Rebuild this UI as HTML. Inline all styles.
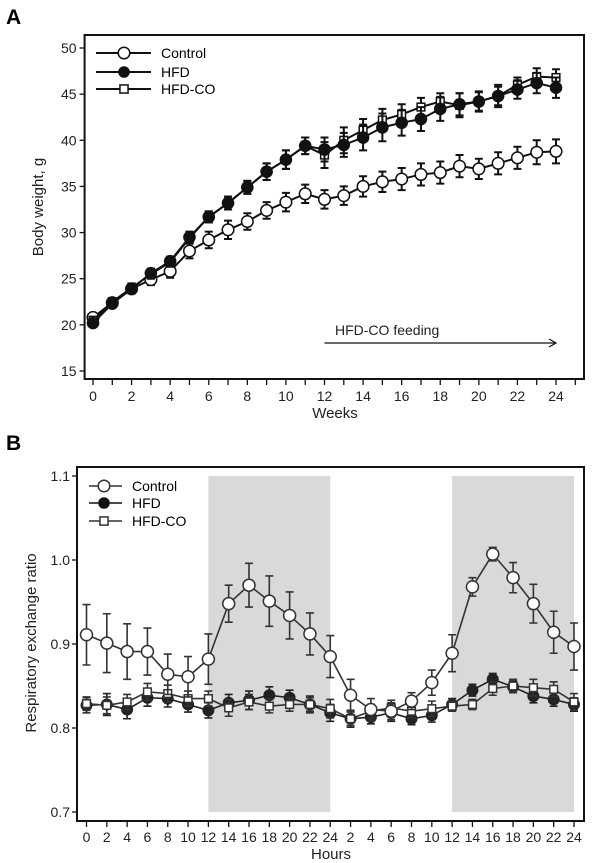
<!DOCTYPE html>
<html><head><meta charset="utf-8"><style>
html,body{margin:0;padding:0;background:#fff}
svg{display:block;font-family:"Liberation Sans",Arial,sans-serif}
</style></head><body>
<svg id="fig" width="600" height="863" viewBox="0 0 600 863">
<text x="6" y="24" font-size="21" font-weight="bold">A</text>
<text x="6" y="450" font-size="21" font-weight="bold">B</text>
<g id="pa"></g>
<g id="pb"></g>
</svg>
<script>
// Panel A data
const weeks = [0,1,2,3,4,5,6,7,8,9,10,11,12,13,14,15,16,17,18,19,20,21,22,23,24];
const aControl = [20.8,22.4,23.9,24.9,25.8,28.0,29.2,30.3,31.2,32.4,33.3,34.2,33.6,34.0,35.0,35.5,35.8,36.3,36.5,37.2,36.9,37.5,38.1,38.7,38.8];
const aControlErr = [0.3,0.4,0.5,0.6,0.7,0.8,0.9,1.0,0.9,0.9,1.0,1.0,1.0,1.0,1.1,1.1,1.2,1.2,1.2,1.2,1.1,1.2,1.2,1.3,1.3];
const aHFD = [20.2,22.3,23.9,25.6,26.9,29.5,31.7,33.2,34.9,36.6,37.9,39.4,39.0,39.5,40.3,41.4,41.9,42.3,43.4,43.9,44.2,44.8,45.5,46.2,45.7];
const aHFDErr = [0.3,0.4,0.5,0.5,0.5,0.6,0.6,0.7,0.7,0.9,1.0,0.9,1.3,1.3,1.4,1.5,1.4,1.3,1.3,1.2,1.1,1.0,1.0,1.1,1.1];
const aHFDCO = [20.5,22.5,24.0,25.5,26.8,29.4,31.7,33.2,34.9,36.6,37.9,39.4,38.4,40.0,41.1,42.2,42.8,43.6,44.2,43.8,44.2,44.8,46.0,46.9,46.8];
const aHFDCOErr = [0.3,0.4,0.5,0.5,0.5,0.6,0.6,0.7,0.7,0.9,1.0,0.9,1.4,1.4,1.2,1.2,1.1,1.0,0.9,1.3,1.0,1.2,0.8,0.9,0.9];
const aYTicks = [15,20,25,30,35,40,45,50];
const aXTickLabels = [0,2,4,6,8,10,12,14,16,18,20,22,24];
// Panel B data
const hourLabels = [0,2,4,6,8,10,12,14,16,18,20,22,24,2,4,6,8,10,12,14,16,18,20,22,24];
const bControl = [0.911,0.901,0.891,0.891,0.864,0.861,0.882,0.948,0.970,0.951,0.934,0.912,0.885,0.839,0.822,0.820,0.832,0.854,0.889,0.968,1.007,0.979,0.948,0.914,0.897];
const bControlErr = [0.036,0.035,0.033,0.028,0.024,0.024,0.030,0.022,0.026,0.030,0.028,0.025,0.025,0.019,0.013,0.010,0.010,0.015,0.022,0.011,0.008,0.018,0.023,0.025,0.028];
const bHFD = [0.827,0.828,0.822,0.836,0.835,0.828,0.821,0.830,0.833,0.839,0.836,0.828,0.818,0.811,0.813,0.818,0.811,0.815,0.828,0.845,0.858,0.849,0.838,0.834,0.828];
const bHFDErr = [0.009,0.013,0.011,0.010,0.010,0.009,0.009,0.010,0.011,0.010,0.009,0.010,0.010,0.010,0.008,0.010,0.007,0.008,0.007,0.007,0.007,0.007,0.008,0.008,0.008];
const bHFDCO = [0.829,0.827,0.831,0.843,0.841,0.835,0.835,0.824,0.831,0.826,0.828,0.828,0.823,0.811,0.820,0.824,0.820,0.823,0.826,0.828,0.847,0.850,0.848,0.846,0.831];
const bHFDCOErr = [0.008,0.010,0.009,0.010,0.010,0.009,0.009,0.010,0.009,0.008,0.008,0.008,0.011,0.008,0.008,0.009,0.008,0.009,0.006,0.006,0.008,0.008,0.010,0.009,0.010];
const bYTicks = [0.7,0.8,0.9,1.0,1.1];
const darkBands = [[6,12],[18,24]];

const NS="http://www.w3.org/2000/svg";
function mk(parent,tag,attrs,text){const e=document.createElementNS(NS,tag);for(const k in attrs)e.setAttribute(k,attrs[k]);if(text!==undefined)e.textContent=text;parent.appendChild(e);return e;}

function drawSeries(g,xs,ys,errs,X,Y,kind,lw,r,col,name){
  const sg=mk(g,'g',{});
  
  
  let d='';
  xs.forEach((x,i)=>{d+=(i?'L':'M')+X(x)+' '+Y(ys[i]);});
  const p=mk(sg,'path',{d:d,fill:'none',stroke:col,'stroke-width':lw});
  
  
  xs.forEach((x,i)=>{
    const cx=X(x),y1=Y(ys[i]+errs[i]),y2=Y(ys[i]-errs[i]);
    const e=mk(sg,'path',{d:`M${cx} ${y1}V${y2}M${cx-4} ${y1}H${cx+4}M${cx-4} ${y2}H${cx+4}`,stroke:col,'stroke-width':lw,fill:'none'});
    
    
  });
  xs.forEach((x,i)=>{
    const cx=X(x),cy=Y(ys[i]);let m;
    if(kind==='open')m=mk(sg,'circle',{cx:cx,cy:cy,r:r,fill:'#fff',stroke:col,'stroke-width':1.5});
    else if(kind==='filled')m=mk(sg,'circle',{cx:cx,cy:cy,r:r,fill:col,stroke:col,'stroke-width':1});
    else m=mk(sg,'rect',{x:cx-r*0.7,y:cy-r*0.7,width:r*1.4,height:r*1.4,fill:'#fff',stroke:col,'stroke-width':1.5});
    
    
  });
}
function legend(g,x1,x2,mx,tx,ys,r,lw,cols){
  const items=[['Control','open'],['HFD','filled'],['HFD-CO','square']];
  items.forEach((it,i)=>{
    const lg=mk(g,'g',{});
    
    
    mk(lg,'line',{x1:x1,x2:x2,y1:ys[i],y2:ys[i],stroke:cols[i],'stroke-width':lw});
    if(it[1]==='open')mk(lg,'circle',{cx:mx,cy:ys[i],r:r,fill:'#fff',stroke:cols[i],'stroke-width':1.5});
    else if(it[1]==='filled')mk(lg,'circle',{cx:mx,cy:ys[i],r:r,fill:cols[i]});
    else mk(lg,'rect',{x:mx-r*0.7,y:ys[i]-r*0.7,width:r*1.4,height:r*1.4,fill:'#fff',stroke:cols[i],'stroke-width':1.5});
    mk(lg,'text',{x:tx,y:ys[i]+5,'font-size':14},it[0]);
  });
}

// ---- Panel A
(function(){
  const g=document.getElementById('pa');
  const L=84.6,R=584,T=35,B=379;
  const X=w=>93+(556-93)*w/24;
  const Y=v=>371-(v-15)*(371-48)/35;
  mk(g,'rect',{x:L,y:T,width:R-L,height:B-T,fill:'#fff',stroke:'#111','stroke-width':2});
  aYTicks.forEach(v=>{
    mk(g,'line',{x1:L-5,x2:L,y1:Y(v),y2:Y(v),stroke:'#111','stroke-width':1.3});
    const t=mk(g,'text',{x:L-8,y:Y(v)+5,'font-size':14,'text-anchor':'end',fill:'#222'},v);
    
    
  });
  for(let w=0;w<=25;w++) mk(g,'line',{x1:X(w),x2:X(w),y1:B,y2:B+6,stroke:'#111','stroke-width':1.3});
  aXTickLabels.forEach(w=>{
    const t=mk(g,'text',{x:X(w),y:B+22,'font-size':14,'text-anchor':'middle',fill:'#222'},w);
    
    
  });
  const xt=mk(g,'text',{x:335,y:418,'font-size':15,'text-anchor':'middle',fill:'#222'},'Weeks');
  
  const yt=mk(g,'text',{x:0,y:0,'font-size':15,'text-anchor':'middle',fill:'#222',transform:'translate(43,207) rotate(-90)'},'Body weight, g');
  
  const at=mk(g,'text',{x:335,y:335,'font-size':14,fill:'#222'},'HFD-CO feeding');
  
  const ar=mk(g,'path',{d:`M${X(12)} 343H${X(24)}M${X(24)-7} 339L${X(24)} 343L${X(24)-7} 347`,stroke:'#111','stroke-width':1.2,fill:'none'});
  
  drawSeries(g,weeks,aControl,aControlErr,X,Y,'open',2,5.8,'#111','control');
  drawSeries(g,weeks,aHFDCO,aHFDCOErr,X,Y,'square',2,5.5,'#111','hfd-co');
  drawSeries(g,weeks,aHFD,aHFDErr,X,Y,'filled',2,5.8,'#111','hfd');
  legend(g,96,151,124,161,[53,72,89],5.8,2,['#111','#111','#111']);
})();

// ---- Panel B
(function(){
  const g=document.getElementById('pb');
  const L=77,R=584,T=467,B=821;
  const X=i=>86.5+(574-86.5)*i/24;
  const Y=v=>812-(v-0.7)*(812-476)/0.4;
  mk(g,'rect',{x:L,y:T,width:R-L,height:B-T,fill:'#fff',stroke:'#111','stroke-width':2});
  darkBands.forEach(b=>{
    const r=mk(g,'rect',{x:X(b[0]),y:Y(1.1),width:X(b[1])-X(b[0]),height:Y(0.7)-Y(1.1),fill:'#d9d9d9'});
    
    
  });
  bYTicks.forEach(v=>{
    mk(g,'line',{x1:L-5,x2:L,y1:Y(v),y2:Y(v),stroke:'#111','stroke-width':1.3});
    const t=mk(g,'text',{x:L-7,y:Y(v)+5,'font-size':14,'text-anchor':'end',fill:'#222'},v.toFixed(1));
    
    
  });
  const idx=hourLabels.map((_,i)=>i);
  hourLabels.forEach((h,i)=>{
    mk(g,'line',{x1:X(i),x2:X(i),y1:B,y2:B+6,stroke:'#111','stroke-width':1.3});
    const t=mk(g,'text',{x:X(i),y:B+21,'font-size':14,'text-anchor':'middle',fill:'#222'},h);
    
    
  });
  const xt=mk(g,'text',{x:331,y:859,'font-size':15,'text-anchor':'middle',fill:'#222'},'Hours');
  
  const yt=mk(g,'text',{x:0,y:0,'font-size':15,'text-anchor':'middle',fill:'#222',transform:'translate(36,643) rotate(-90)'},'Respiratory exchange ratio');
  
  drawSeries(g,idx,bHFD,bHFDErr,X,Y,'filled',1.6,5.5,'#222','hfd');
  drawSeries(g,idx,bHFDCO,bHFDCOErr,X,Y,'square',1.6,5.5,'#333','hfd-co');
  drawSeries(g,idx,bControl,bControlErr,X,Y,'open',1.6,6,'#333','control');
  legend(g,89,122,104,132,[486,503,521],5.8,1.6,['#333','#111','#333']);
})();
</script>
</body></html>
